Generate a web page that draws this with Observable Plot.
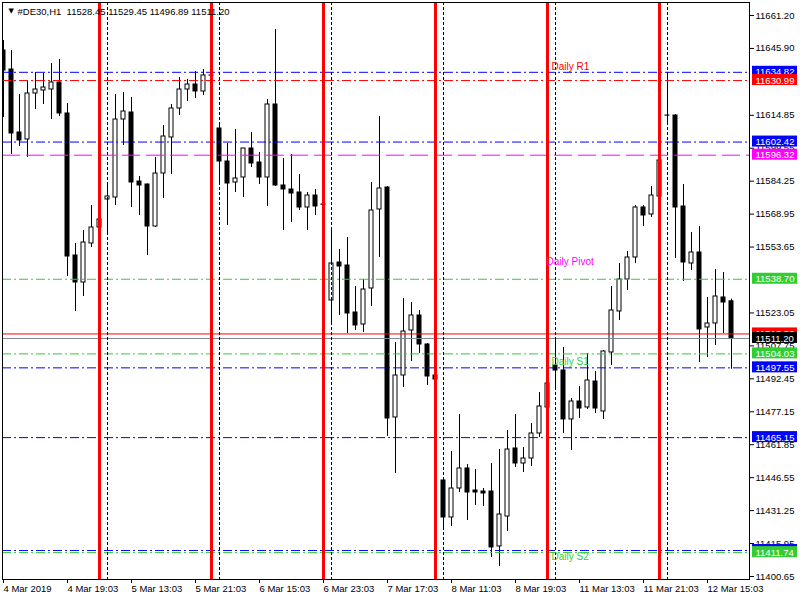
<!DOCTYPE html>
<html><head><meta charset="utf-8">
<script src="https://cdn.jsdelivr.net/npm/d3@7"></script>
<script src="https://cdn.jsdelivr.net/npm/@observablehq/plot@0.6"></script>
<style>html,body{margin:0;padding:0;background:#fff;} svg{display:block}</style>
</head><body>
<script>
// ---- data (DE30, H1 candles) ----
const opens = [11644.95, 11636.12, 11606.86, 11603.61, 11624.98, 11626.37, 11626.83, 11630.09, 11615.69, 11549.74,
 11537.20, 11555.31, 11562.74, 11575.74, 11576.67, 11612.90, 11616.15, 11584.10, 11582.71, 11563.20,
 11587.82, 11604.54, 11618.01, 11626.83, 11629.16, 11625.91, 11633.34, 11608.72, 11593.39, 11583.64,
 11585.96, 11599.43, 11592.93, 11585.96, 11619.87, 11582.25, 11580.39, 11579.00, 11572.03, 11577.60,
 11573.42, 11528.83, 11546.48, 11545.09, 11523.26, 11517.69, 11534.41, 11571.10, 11581.32, 11474.49,
 11494.00, 11514.90, 11521.87, 11508.40, 11494.00, 11445.23, 11428.05, 11441.52, 11450.81, 11440.59,
 11440.12, 11440.12, 11414.58, 11428.51, 11460.10, 11453.13, 11455.45, 11467.06, 11479.14, 11498.65,
 11496.32, 11473.57, 11481.93, 11479.14, 11491.21, 11477.28, 11504.68, 11523.73, 11538.59, 11548.81,
 11572.03, 11568.78, 11577.14, 11614.76, 11614.76, 11572.49, 11546.02, 11551.13, 11516.29, 11518.15,
 11530.23, 11528.45];
const highs = [11649.59, 11644.95, 11624.51, 11631.01, 11634.73, 11634.27, 11638.91, 11640.77, 11620.33, 11555.31,
 11561.35, 11572.96, 11572.03, 11583.18, 11624.51, 11625.44, 11623.12, 11586.43, 11582.90, 11595.25,
 11610.11, 11619.87, 11632.41, 11631.48, 11635.19, 11636.12, 11636.12, 11611.04, 11601.75, 11608.26,
 11599.43, 11606.86, 11597.57, 11622.19, 11654.70, 11594.79, 11596.64, 11587.36, 11579.00, 11580.39,
 11580.85, 11561.35, 11552.52, 11558.10, 11535.34, 11538.59, 11583.64, 11614.29, 11581.78, 11509.33,
 11529.76, 11527.91, 11524.19, 11508.86, 11506.08, 11446.63, 11458.70, 11475.89, 11452.67, 11450.34,
 11441.52, 11453.13, 11459.63, 11468.46, 11475.89, 11460.56, 11471.71, 11486.11, 11492.14, 11510.72,
 11507.01, 11483.32, 11488.89, 11504.22, 11495.86, 11505.61, 11535.34, 11546.02, 11551.59, 11572.96,
 11572.96, 11581.78, 11596.18, 11634.73, 11615.22, 11582.71, 11560.42, 11563.20, 11530.23, 11543.23,
 11541.84, 11529.45];
const lows = [11613.83, 11596.64, 11600.36, 11595.25, 11617.54, 11619.87, 11612.90, 11614.29, 11539.98, 11523.73,
 11530.69, 11553.45, 11559.02, 11559.95, 11572.96, 11600.82, 11572.03, 11568.31, 11549.74, 11562.74,
 11576.21, 11587.36, 11614.76, 11621.26, 11622.65, 11624.05, 11624.98, 11582.25, 11563.67, 11579.00,
 11576.67, 11590.61, 11582.71, 11572.49, 11581.78, 11561.35, 11565.06, 11570.64, 11561.35, 11568.31,
 11565.99, 11518.15, 11521.87, 11513.51, 11514.90, 11513.97, 11526.05, 11548.81, 11465.67, 11448.49,
 11488.43, 11500.50, 11504.22, 11489.36, 11485.64, 11423.40, 11423.87, 11439.66, 11426.66, 11433.62,
 11433.16, 11409.47, 11405.29, 11421.55, 11451.27, 11448.95, 11451.74, 11465.20, 11469.85, 11487.96,
 11467.06, 11459.17, 11474.03, 11478.21, 11476.35, 11473.57, 11498.65, 11519.55, 11533.48, 11546.02,
 11563.20, 11567.38, 11575.28, 11611.51, 11548.34, 11537.66, 11542.77, 11500.04, 11502.36, 11507.93,
 11513.51, 11496.89];
const closes = [11635.66, 11606.40, 11603.15, 11624.98, 11626.83, 11627.76, 11630.09, 11615.69, 11549.27, 11537.20,
 11555.77, 11562.74, 11566.46, 11577.14, 11612.90, 11616.62, 11583.64, 11582.25, 11563.20, 11587.82,
 11605.00, 11618.01, 11626.83, 11629.16, 11625.91, 11633.34, 11633.30, 11593.39, 11583.18, 11585.50,
 11599.43, 11592.46, 11585.96, 11619.87, 11582.25, 11580.39, 11578.53, 11572.03, 11577.60, 11572.49,
 11573.30, 11546.02, 11544.63, 11522.80, 11517.22, 11533.94, 11570.64, 11580.85, 11474.03, 11494.00,
 11514.44, 11521.87, 11508.40, 11493.54, 11492.14, 11428.05, 11441.52, 11450.81, 11439.66, 11439.66,
 11439.20, 11414.12, 11429.44, 11459.63, 11453.13, 11455.45, 11467.06, 11479.60, 11490.29, 11496.32,
 11473.57, 11481.93, 11478.67, 11491.68, 11478.67, 11505.15, 11524.19, 11538.59, 11548.81, 11572.03,
 11568.31, 11577.60, 11593.86, 11614.70, 11572.03, 11546.48, 11551.13, 11515.37, 11518.15, 11530.69,
 11527.91, 11511.20];

const dateTickBars = [0, 8, 16, 24, 32, 40, 48, 56, 64, 72, 80, 88];
const dateTickLabels = ["4 Mar 2019", "4 Mar 19:03", "5 Mar 13:03", "5 Mar 21:03", "6 Mar 15:03", "6 Mar 23:03",
  "7 Mar 17:03", "8 Mar 11:03", "8 Mar 19:03", "11 Mar 13:03", "11 Mar 21:03", "12 Mar 15:03"];
// visible price-scale labels (11630.60 and 11538.35 sit fully under price boxes)
const priceTicks = [11661.20, 11645.90, 11614.85, 11599.55, 11584.25, 11568.95, 11553.65,
  11523.05, 11507.75, 11492.45, 11477.15, 11461.85, 11446.55, 11431.25, 11415.95, 11400.65];

const periodSeparatorBars = [12, 26, 40, 54, 68, 82];
const dottedSeparatorBars = [13, 27, 41, 55, 69, 83];

const levelPrices = [11634.82, 11630.99, 11602.42, 11596.32, 11538.70, 11513.30, 11511.20, 11504.03, 11497.55, 11465.15, 11412.70, 11411.74];
const levelKinds  = ["blue", "r1", "blue", "magenta", "green", "ask", "bid", "green", "blue", "blue", "blue", "green"];

const pivotLabelTexts  = ["Daily R1", "Daily Pivot", "Daily S1", "Daily S2"];
const pivotLabelPrices = [11637.29, 11546.95, 11500.27, 11409.70];
const pivotLabelKinds  = ["r1", "magenta", "green", "green"];
const pivotLabelBar = 68;

const symbolTitle = "#DE30,H1  11528.45 11529.45 11496.89 11511.20";

// ---- styles ----
const DASHDOT = "9,3,2,3";
const levelStyle = {
  blue:    {stroke: "#0000ff", dash: DASHDOT, box: "#0000ff"},
  r1:      {stroke: "#ff0000", dash: DASHDOT, box: "#ff0000"},
  magenta: {stroke: "#ff00ff", dash: "18,6",  box: "#ff00ff"},
  green:   {stroke: "#32cd32", dash: DASHDOT, box: "#32cd32"},
  ask:     {stroke: "#ff0000", dash: null,    box: "#ff0000"},
  bid:     {stroke: "#778899", dash: null,    box: "#000000"}
};

const candles = opens.map((o, i) => ({i, o, h: highs[i], l: lows[i], c: closes[i]}));
const levels = levelPrices.map((price, k) => ({price, kind: levelKinds[k]}));
const pivotLabels = pivotLabelTexts.map((t, k) => ({t, price: pivotLabelPrices[k], kind: pivotLabelKinds[k], bar: pivotLabelBar}));

const lineMarks = levels.map(d => Plot.ruleY([d], {
  y: "price", stroke: levelStyle[d.kind].stroke, strokeWidth: 1,
  strokeDasharray: levelStyle[d.kind].dash || undefined
}));

const boxMarks = levels.flatMap(d => [
  Plot.rect([d], {y1: "price", y2: "price", insetTop: -6, insetBottom: -5, insetLeft: 750, insetRight: -48,
    fill: levelStyle[d.kind].box}),
  Plot.text([d], {y: "price", text: v => v.price.toFixed(2), frameAnchor: "right", dx: 6,
    textAnchor: "start", lineAnchor: "middle", fill: "white", fontSize: 9.5})
]);

const chart = Plot.plot({
  width: 800, height: 600,
  marginLeft: 2, marginRight: 51, marginTop: 2, marginBottom: 21,
  style: {fontFamily: "'Liberation Sans', Arial, sans-serif", fontSize: "9.5px", color: "black", background: "white", overflow: "visible"},
  x: {type: "linear", domain: [-0.125, 93.25], axis: null, label: null},
  y: {type: "linear", domain: [11399.25, 11667.24], axis: null, label: null},
  color: {type: "identity"},
  marks: [
    Plot.ruleX(candles, {x: "i", y1: "l", y2: "h", stroke: "black", strokeWidth: 1, clip: true}),
    Plot.rect(candles, {x1: d => d.i - 0.25, x2: d => d.i + 0.25, y1: "o", y2: "c",
      fill: d => d.c >= d.o ? "white" : "black", stroke: "black", strokeWidth: 1, clip: true}),
    ...lineMarks,
    Plot.ruleX(periodSeparatorBars, {x: d => d, stroke: "#ff0000", strokeWidth: 3}),
    Plot.ruleX(dottedSeparatorBars, {x: d => d, stroke: "black", strokeWidth: 1, strokeDasharray: "3,2"}),
    Plot.text(pivotLabels.filter(d => d.kind !== "magenta"), {x: "bar", y: "price", text: "t", dx: 4,
      textAnchor: "start", lineAnchor: "middle", fill: d => levelStyle[d.kind].stroke, fontSize: 10}),
    Plot.text(pivotLabels.filter(d => d.kind === "magenta"), {x: "bar", y: "price", text: "t", dx: -1,
      textAnchor: "start", lineAnchor: "middle", fill: d => levelStyle[d.kind].stroke, fontSize: 10}),
    Plot.axisY({ticks: priceTicks, anchor: "right", tickSize: 4, tickPadding: 2,
      tickFormat: d => d.toFixed(2), fontSize: 9.5, label: null}),
    ...boxMarks,
    Plot.axisX({ticks: dateTickBars, anchor: "bottom", tickSize: 4, tickPadding: 2,
      tickFormat: d => dateTickLabels[dateTickBars.indexOf(d)], textAnchor: "start", dx: 0, fontSize: 9.5, label: null}),
    Plot.frame({stroke: "black", strokeWidth: 1}),
    Plot.text(["\u25BC"], {text: d => d, frameAnchor: "top-left", dx: 6, dy: 8, textAnchor: "start",
      lineAnchor: "middle", fontSize: 7, fontFamily: "DejaVu Sans"}),
    Plot.text([symbolTitle], {text: d => d, frameAnchor: "top-left", dx: 15, dy: 9, textAnchor: "start",
      lineAnchor: "middle", fontSize: 9.5})
  ]
});
document.body.appendChild(chart);
</script>
</body></html>
